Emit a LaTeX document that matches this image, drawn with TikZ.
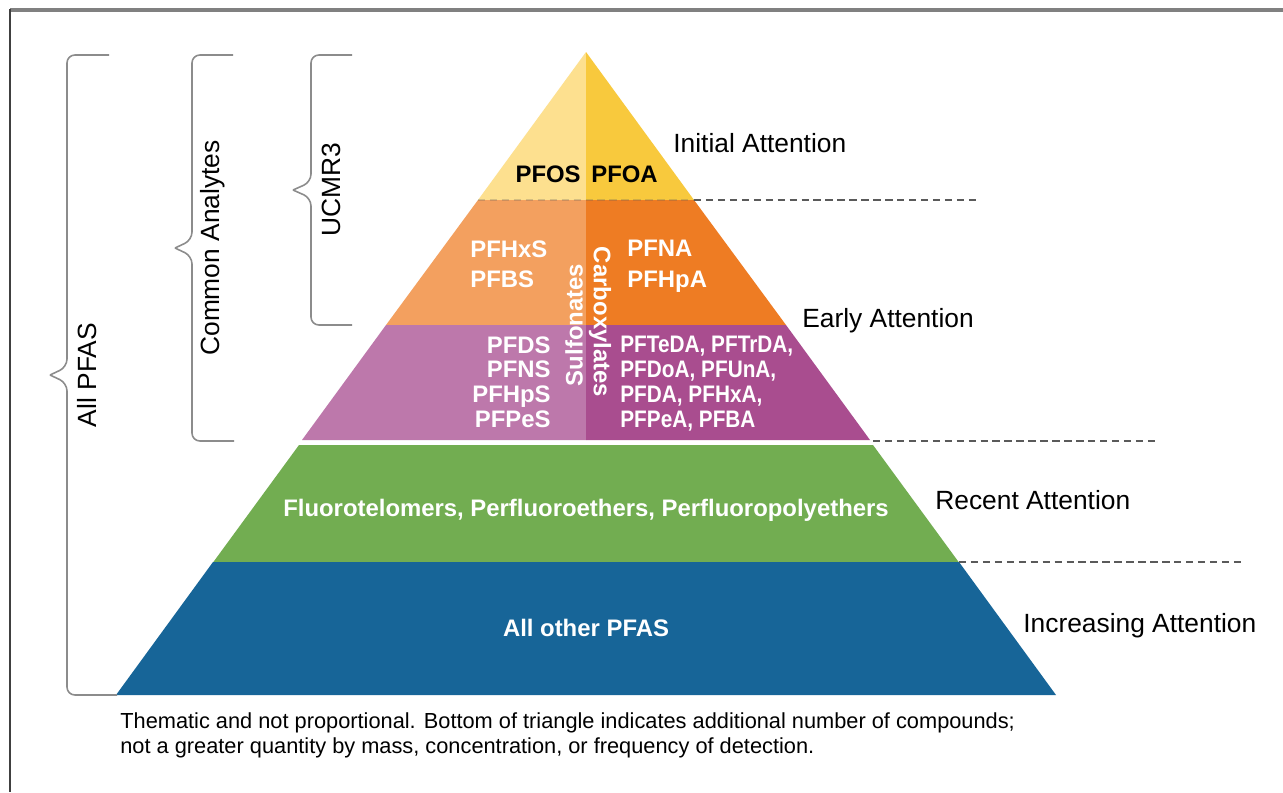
\documentclass[tikz,border=0pt]{standalone}
\usepackage{fontspec}
\setmainfont{Liberation Sans}
\newfontfamily\narrowsans[FakeStretch=0.87]{Liberation Sans}
\usepackage{tikz}
\usetikzlibrary{calc}
\definecolor{YelLight}{HTML}{FDE08F}
\definecolor{YelDeep}{HTML}{F8C93D}
\definecolor{OraLight}{HTML}{F3A05F}
\definecolor{OraDeep}{HTML}{EE7C23}
\definecolor{PurLight}{HTML}{BD78AB}
\definecolor{PurDeep}{HTML}{A94D8F}
\definecolor{TierGreen}{HTML}{72AD51}
\definecolor{TierBlue}{HTML}{176598}
\definecolor{BraceGray}{HTML}{8C8C8C}
\definecolor{GuideGray}{HTML}{5A5A5A}
\tikzset{
  % White compound names inside the tiers
  tiertxt/.style={
    inner sep=0pt, text=white,
    font=\fontsize{13.6}{14.2}\selectfont\bfseries
  },
  % Attention level labels on the right
  attn/.style={inner sep=0pt, font=\fontsize{15}{18}\selectfont},
  % Curly bracket on the left
  curly/.style={draw=BraceGray, line width=0.9pt, rounded corners=4.5pt},
  % Dashed separator line
  guide/.style={
    draw=GuideGray, line width=0.8pt,
    dash pattern=on 4.2pt off 2.6pt
  }
}

\begin{document}
\begin{tikzpicture}[x=0.02cm, y=-0.02cm]

  \useasboundingbox (0,0) rectangle (1283,792);
  \fill[white] (0,0) rectangle (1283,792);

  % Frame
  \draw[gray, line width=2.2pt] (10,10) -- (1283,10);
  \draw[black!75, line width=1.4pt] (10,9) -- (10,792);

  % Tier corners
  \coordinate (apex) at (586,52);
  \coordinate (a1l) at (478,200);
  \coordinate (a1m) at (586,200);
  \coordinate (a1r) at (694,200);
  \coordinate (a2l) at (386,325);
  \coordinate (a2m) at (586,325);
  \coordinate (a2r) at (786,325);
  \coordinate (a3l) at (302,440);
  \coordinate (a3m) at (586,440);
  \coordinate (a3r) at (870,440);
  \coordinate (b1l) at (299,445);
  \coordinate (b1r) at (873,445);
  \coordinate (b2l) at (213,562);
  \coordinate (b2r) at (959,562);
  \coordinate (b3l) at (116,695);
  \coordinate (b3r) at (1056,695);

  % Tiers
  \fill[YelLight] (apex) -- (a1l) -- (a1m) -- cycle;
  \fill[YelDeep]  (apex) -- (a1m) -- (a1r) -- cycle;
  \fill[OraLight] (a1l) -- (a2l) -- (a2m) -- (a1m) -- cycle;
  \fill[OraDeep]  (a1m) -- (a2m) -- (a2r) -- (a1r) -- cycle;
  \fill[PurLight] (a2l) -- (a3l) -- (a3m) -- (a2m) -- cycle;
  \fill[PurDeep]  (a2m) -- (a3m) -- (a3r) -- (a2r) -- cycle;
  \fill[TierGreen] (b1l) -- ($(b2l)+(0,0.5)$) -- ($(b2r)+(0,0.5)$) -- (b1r) -- cycle;
  \fill[TierBlue]  (b2l) -- (b3l) -- (b3r) -- (b2r) -- cycle;
  \draw[guide, opacity=0.25] (a1l) -- (a1r);

  % Dashed separators
  \draw[guide] (a1r) -- ++(286,0);
  \draw[guide] ($(a3r)+(3,1)$) -- ++(284,0);
  \draw[guide] (b2r) -- ++(286,0);

  % Top tier
  \node[tiertxt, text=black, anchor=base east] (pfos) at (581,182) {PFOS};
  \node[tiertxt, text=black, anchor=base west] (pfoa) at (591,182) {PFOA};

  % Second tier
  \node[tiertxt, anchor=north west, align=left,
    font=\fontsize{13.6}{17.6}\selectfont\bfseries] (sulf2) at (470,240) {PFHxS\\PFBS};
  \node[tiertxt, anchor=north west, align=left,
    font=\fontsize{13.6}{17.6}\selectfont\bfseries] (carb2) at (627,240) {PFNA\\PFHpA};
  \node[tiertxt, rotate=90] (sulf) at (574,325) {Sulfonates};
  \node[tiertxt, rotate=-90] (carb) at (600,322) {Carboxylates};

  % Third tier
  \node[tiertxt, anchor=north east, align=right] (sulf3) at (551,336)
    {PFDS\\PFNS\\PFHpS\\PFPeS};
  \node[tiertxt, anchor=north west, align=left,
    font=\fontsize{13.6}{14.2}\narrowsans\bfseries] (carb3) at (620,336)
    {PFTeDA, PFTrDA,\\PFDoA, PFUnA,\\PFDA, PFHxA,\\PFPeA, PFBA};

  % Lower tiers
  \node[tiertxt] (recent) at (586,510) {Fluorotelomers, Perfluoroethers, Perfluoropolyethers};
  \node[tiertxt] (others) at (586,628) {All other PFAS};

  % Attention levels
  \node[attn, anchor=base west] (initial) at (673,152) {Initial Attention};
  \node[attn, anchor=base west] (early) at (802,327) {Early Attention};
  \node[attn, anchor=base west] (recentlbl) at (935,509) {Recent Attention};
  \node[attn, anchor=base west] (increasing) at (1023,632) {Increasing Attention};

  % Brackets
  \draw[curly] (50,375) -- (67,367) |- (109,55);
  \draw[curly] (50,375) -- (67,383) |- (117,695);
  \draw[curly] (175,248) -- (192,240) |- (233,55);
  \draw[curly] (175,248) -- (192,256) |- (234,441);
  \draw[curly] (293,190) -- (311,182) |- (352,55);
  \draw[curly] (293,190) -- (311,198) |- (352,325);
  \node[attn, rotate=90] (allpfas) at (87,375) {All PFAS};
  \node[attn, rotate=90] (common) at (213,248) {Common Analytes};
  \node[attn, rotate=90] (ucmr) at (331,190) {UCMR3};

  % Note
  \node[inner sep=0pt, anchor=north west, align=left,
    font=\fontsize{12.4}{14.2}\selectfont] (note) at (120,712)
    {Thematic and not proportional. Bottom of triangle indicates additional number of compounds;\\
     not a greater quantity by mass, concentration, or frequency of detection.};

\end{tikzpicture}
\end{document}
